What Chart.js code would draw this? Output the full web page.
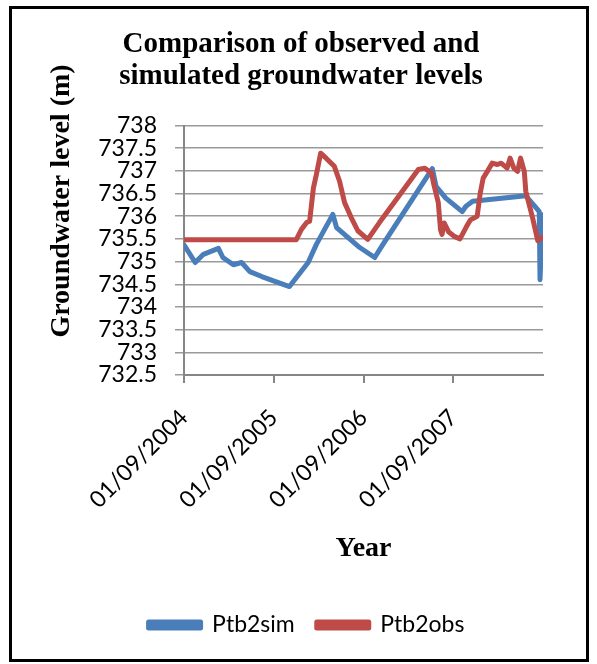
<!DOCTYPE html>
<html>
<head>
<meta charset="utf-8">
<script src="https://cdn.jsdelivr.net/npm/chart.js@4.4.0/dist/chart.umd.min.js"></script>
<style>
  html, body { margin: 0; padding: 0; background: #fff; }
  #wrap { width: 597px; height: 664px; position: relative; }
</style>
</head>
<body>
<div id="wrap"><canvas id="c" width="597" height="664"></canvas></div>
<script>
// Time is counted in months from 01/09/2004.
const xTickMonths = [0, 12, 24, 36];
const xTickLabels = ['01/09/2004', '01/09/2005', '01/09/2006', '01/09/2007'];

const titleLines = ['Comparison of observed and', 'simulated groundwater levels'];
const yAxisTitle = 'Groundwater level (m)';
const xAxisTitle = 'Year';
const seriesNames = ['Ptb2sim', 'Ptb2obs'];

// Simulated levels (m)
const simMonths = [0, 1.5, 2.6, 4.6, 5.2, 6.6, 7.7, 8.8, 10.4, 14.1, 16.6, 17.7, 19.9, 20.4,
  23.5, 25.5, 26.6, 33.2, 33.7, 35.0, 37.2, 37.7, 38.6, 45.7, 47.0, 47.5, 47.6, 47.95];
const simLevels = [735.37, 734.98, 735.16, 735.29, 735.09, 734.93, 734.98, 734.78, 734.67, 734.45,
  734.98, 735.38, 736.04, 735.75, 735.31, 735.09, 735.38, 737.05, 736.66, 736.40, 736.10, 736.22,
  736.33, 736.45, 736.20, 736.10, 734.60, 736.03];

// Observed levels (m)
const obsMonths = [0, 15.0, 15.7, 16.4, 16.8, 17.3, 17.7, 18.27, 19.0, 20.1, 20.8, 21.47, 22.36,
  23.24, 24.57, 26.13, 31.33, 32.2, 33.1, 33.4, 34.0, 34.3, 34.5, 34.8, 35.4, 36.2, 36.9, 37.7,
  38.3, 39.2, 39.6, 40.0, 40.6, 41.2, 41.9, 42.4, 43.2, 43.6, 44.1, 44.6, 45.0, 45.5, 45.7, 46.6,
  47.3, 47.9];
const obsLevels = [735.48, 735.48, 735.71, 735.86, 735.89, 736.62, 736.92, 737.39, 737.28, 737.10,
  736.77, 736.30, 735.97, 735.68, 735.49, 735.86, 737.03, 737.06, 736.95, 736.70, 736.30, 735.70,
  735.60, 735.85, 735.65, 735.55, 735.50, 735.75, 735.92, 736.00, 736.50, 736.84, 737.00, 737.17,
  737.14, 737.17, 737.06, 737.28, 737.06, 736.99, 737.28, 736.99, 736.55, 735.97, 735.46, 735.53];

const toPoints = (xs, ys) => xs.map((x, i) => ({ x: x, y: ys[i] }));

const BLUE = '#4A7EBB';
const RED = '#BE4B48';
const AXIS_GREY = '#868686';
const GRID_GREY = '#9a9a9a';
const SANS = 'Lato';
const SERIF = '"Liberation Serif", "DejaVu Serif", serif';

const decorations = {
  id: 'decorations',
  beforeDraw(chart) {
    const ctx = chart.ctx;
    ctx.save();
    ctx.fillStyle = '#fff';
    ctx.fillRect(0, 0, chart.width, chart.height);
    ctx.restore();
  },
  afterDraw(chart) {
    const ctx = chart.ctx;
    const area = chart.chartArea;
    ctx.save();
    ctx.fillStyle = '#000';
    ctx.textAlign = 'center';
    ctx.textBaseline = 'middle';
    ctx.font = 'bold 29px ' + SERIF;
    ctx.fillText(titleLines[0], 301, 45);
    ctx.fillText(titleLines[1], 301, 77);
    ctx.font = 'bold 28px ' + SERIF;
    ctx.fillText(xAxisTitle, (area.left + area.right) / 2, 549);
    ctx.translate(62, 201);
    ctx.rotate(-Math.PI / 2);
    ctx.fillText(yAxisTitle, 0, 0);
    ctx.restore();

    ctx.save();
    ctx.strokeStyle = '#000';
    ctx.lineWidth = 3;
    ctx.strokeRect(10.5, 7.5, 577, 653);
    ctx.restore();
  }
};

new Chart(document.getElementById('c'), {
  type: 'line',
  data: {
    datasets: [
      {
        label: seriesNames[0],
        data: toPoints(simMonths, simLevels),
        borderColor: BLUE,
        backgroundColor: BLUE,
        borderWidth: 5,
        pointRadius: 0,
        tension: 0,
        borderJoinStyle: 'round',
        borderCapStyle: 'round',
        order: 2
      },
      {
        label: seriesNames[1],
        data: toPoints(obsMonths, obsLevels),
        borderColor: RED,
        backgroundColor: RED,
        borderWidth: 5,
        pointRadius: 0,
        tension: 0,
        borderJoinStyle: 'round',
        borderCapStyle: 'round',
        order: 1
      }
    ]
  },
  options: {
    responsive: false,
    animation: false,
    devicePixelRatio: 1,
    layout: { padding: { left: 70, right: 54, top: 125.5, bottom: 17.5 } },
    plugins: {
      title: { display: false },
      tooltip: { enabled: false },
      legend: {
        display: true,
        position: 'bottom',
        labels: {
          font: { family: SANS, size: 23 },
          color: '#000',
          boxWidth: 52,
          boxHeight: 6,
          padding: 22,
          sort: (a, b) => a.datasetIndex - b.datasetIndex
        }
      }
    },
    scales: {
      x: {
        type: 'linear',
        min: 0,
        max: 48,
        afterBuildTicks(scale) {
          scale.ticks = xTickMonths.map(v => ({ value: v }));
        },
        afterFit(scale) { scale.height = 216.5; },
        ticks: {
          autoSkip: false,
          minRotation: 45,
          maxRotation: 45,
          padding: 21,
          color: '#000',
          font: { family: SANS, size: 23 },
          callback(value) {
            const i = xTickMonths.indexOf(value);
            return i >= 0 ? xTickLabels[i] : '';
          }
        },
        grid: {
          drawOnChartArea: false,
          drawTicks: true,
          tickLength: 8,
          color: AXIS_GREY,
          lineWidth: 2
        },
        border: { color: AXIS_GREY, width: 2 }
      },
      y: {
        min: 732.5,
        max: 738,
        afterFit(scale) { scale.width = 114; },
        ticks: {
          stepSize: 0.5,
          autoSkip: false,
          padding: 18,
          color: '#000',
          font: { family: SANS, size: 23 },
          callback: (value) => String(Math.round(value * 10) / 10)
        },
        grid: {
          color: GRID_GREY,
          lineWidth: 1.5,
          tickLength: 9,
          drawTicks: true
        },
        border: { color: AXIS_GREY, width: 2 }
      }
    }
  },
  plugins: [decorations]
});
</script>
</body>
</html>
